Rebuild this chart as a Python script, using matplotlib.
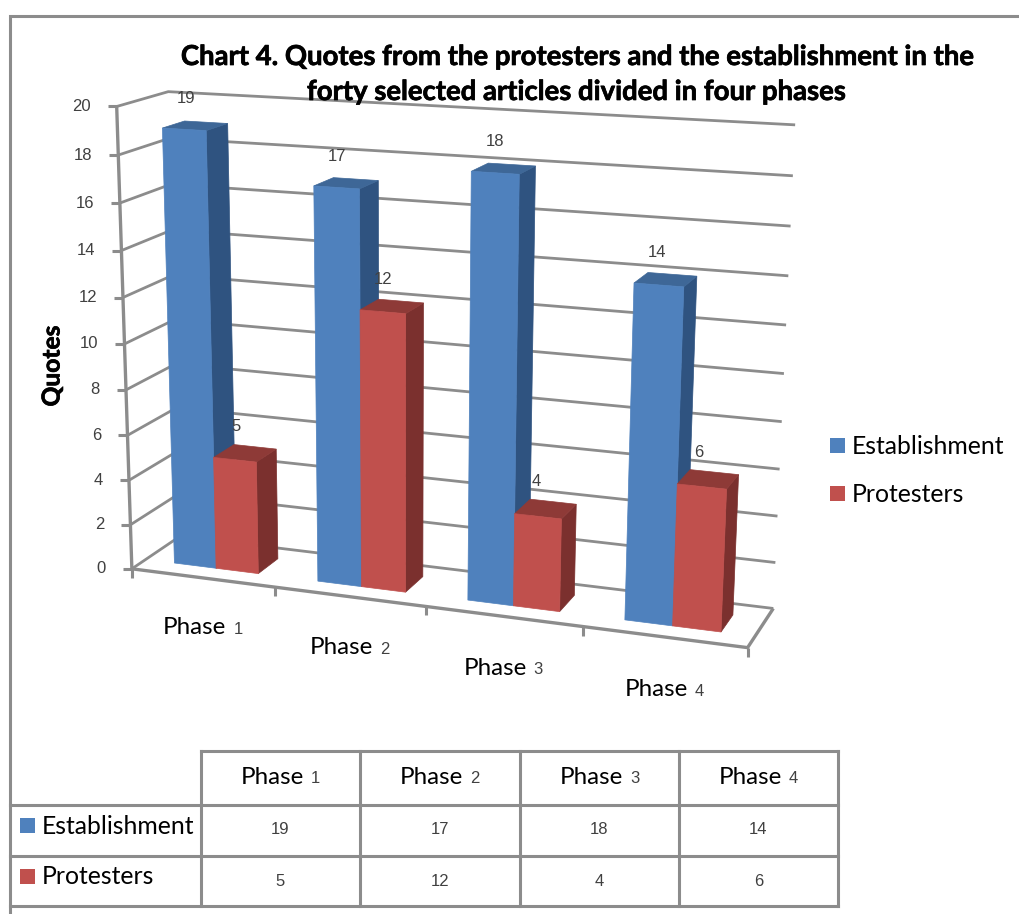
import numpy as np
import matplotlib
matplotlib.use("Agg")
import matplotlib.pyplot as plt
import matplotlib.patheffects as pe
from matplotlib.patches import Polygon, Rectangle

# DATA
phases = ["Phase 1", "Phase 2", "Phase 3", "Phase 4"]
series_names = ["Establishment", "Protesters"]
establishment = [19, 17, 18, 14]
protesters = [5, 12, 4, 6]
y_ticks = list(range(0, 21, 2))

# COLOURS (front, side, top)
blue = ("#4F81BD", "#2F5380", "#3E6797")
red = ("#C0504D", "#7B302E", "#8E3A37")
grey = "#8C8C8C"
num_col = "#404040"

TXT = "Lato"
NUM = "Liberation Sans"

fig = plt.figure(figsize=(10.19, 9.14), dpi=100)
ax = fig.add_axes([0, 0, 1, 1])
ax.set_xlim(0, 1019)
ax.set_ylim(914, 0)
ax.axis("off")

# PROJECTION: fit a camera matrix to the corners of the 3D chart box
# (category, value, depth) -> pixel
box_3d = [(0, 0, 0), (4, 0, 0), (4, 0, 1), (0, 0, 1), (0, 20, 0), (0, 20, 1), (4, 20, 1)]
box_px = [(134, 568), (747, 649), (774, 607), (178, 537), (115, 106), (170, 92), (795, 125)]

rows = []
for (u, v, w), (px, py) in zip(box_3d, box_px):
    rows.append([u, v, w, 1, 0, 0, 0, 0, -px * u, -px * v, -px * w, -px])
    rows.append([0, 0, 0, 0, u, v, w, 1, -py * u, -py * v, -py * w, -py])
P = np.linalg.svd(np.array(rows, dtype=float))[2][-1].reshape(3, 4)


def project(u, v, w):
    x, y, z = P @ np.array([u, v, w, 1.0])
    return x / z, y / z


def grid_line(points, lw=2.2, color=grey):
    xy = np.array(points)
    ax.plot(xy[:, 0], xy[:, 1], color=color, lw=lw, solid_capstyle="butt", zorder=2)


# WALLS AND FLOOR
for v in y_ticks:
    grid_line([project(0, v, 0), project(0, v, 1), project(4, v, 1)], lw=2.0)
    x0, y0 = project(0, v, 0)
    grid_line([(x0 - 9, y0), (x0, y0)])
    ax.text(x0 - 26, y0, str(v), ha="right", va="center", family=NUM,
            fontsize=12, color=num_col)
grid_line([project(0, 0, 0), project(0, 20, 0)], lw=2.4)
grid_line([project(0, 0, 0), project(4, 0, 0), project(4, 0, 1)], lw=2.4)
for k in range(5):
    x0, y0 = project(k, 0, 0)
    grid_line([(x0, y0), (x0, y0 + 9)])

# BARS
bar_w = 0.295
depth = (0.28, 0.72)


def draw_bar(k, side, value, colors):
    u0 = k + 0.5 + (side - 1) * bar_w
    u1 = u0 + bar_w
    w0, w1 = depth
    top = [project(u0, value, w0), project(u1, value, w0), project(u1, value, w1), project(u0, value, w1)]
    front = [project(u0, 0, w0), project(u1, 0, w0), project(u1, value, w0), project(u0, value, w0)]
    right = [project(u1, 0, w0), project(u1, 0, w1), project(u1, value, w1), project(u1, value, w0)]
    for poly, col in zip((right, top, front), (colors[1], colors[2], colors[0])):
        ax.add_patch(Polygon(poly, closed=True, fc=col, ec=col, lw=0.5, zorder=3))
    cx, cy = project((u0 + u1) / 2, value, (w0 + w1) / 2)
    ax.text(cx - 9, cy - 27, str(value), ha="center", va="center", family=NUM,
            fontsize=12, color=num_col, zorder=5)


for k in range(len(phases)):
    draw_bar(k, 0, establishment[k], blue)
    draw_bar(k, 1, protesters[k], red)


# TEXT HELPERS
def phase_label(cx, cy, label, size=17.4):
    # word in the body font, digit in the thinner number font, centred together
    word, digit = label.split()
    t1 = ax.text(cx, cy, word, ha="left", va="center", family=TXT, fontsize=size, color="black")
    t2 = ax.text(cx, cy + 1.5, digit, ha="left", va="center", family=NUM, fontsize=12, color=num_col)
    fig.canvas.draw()
    r = fig.canvas.get_renderer()
    w1 = t1.get_window_extent(r).width + 7
    w2 = t2.get_window_extent(r).width
    t1.set_x(cx - (w1 + w2) / 2)
    t2.set_x(cx - (w1 + w2) / 2 + w1)


for k, label in enumerate(phases):
    x0, y0 = project(k + 0.5, 0, 0)
    phase_label(x0, y0 + 50 + k, label)

# TITLE AND AXIS TITLE
heavy = [pe.withStroke(linewidth=0.5, foreground="black")]
ax.text(576, 57, "Chart 4. Quotes from the protesters and the establishment in the",
        ha="center", va="center", family=TXT, weight="bold", fontsize=19.8, color="black",
        zorder=6, path_effects=heavy)
ax.text(576, 92, "forty selected articles divided in four phases",
        ha="center", va="center", family=TXT, weight="bold", fontsize=19.8, color="black",
        zorder=6, path_effects=heavy)
ax.text(52, 366, "Quotes", rotation=90, ha="center", va="center", family=TXT,
        weight="bold", fontsize=17.7, color="black", path_effects=heavy)

# LEGEND
for name, col, y in zip(series_names, (blue[0], red[0]), (445, 493)):
    ax.add_patch(Rectangle((830, y - 7.5), 15, 15, fc=col, ec="none"))
    ax.text(852, y + 1, name, ha="left", va="center", family=TXT, fontsize=17.8, color="black")

# OUTER FRAME
ax.plot([1019, 10, 10], [16, 16, 914], color=grey, lw=2.2, solid_joinstyle="miter")

# DATA TABLE
col_x = [201, 360, 520, 679, 838]
row_y = [751, 805, 856, 906]
for x in col_x:
    ax.plot([x, x], [row_y[0], row_y[-1]], color=grey, lw=2.2)
ax.plot([col_x[0], col_x[-1]], [row_y[0], row_y[0]], color=grey, lw=2.2)
for y in row_y[1:]:
    ax.plot([10, col_x[-1]], [y, y], color=grey, lw=2.2)

for k, label in enumerate(phases):
    phase_label((col_x[k] + col_x[k + 1]) / 2, 777, label)
    mid = (col_x[k] + col_x[k + 1]) / 2
    ax.text(mid, 830, str(establishment[k]), ha="center", va="center", family=NUM, fontsize=12, color=num_col)
    ax.text(mid, 881, str(protesters[k]), ha="center", va="center", family=NUM, fontsize=12, color=num_col)

for name, col, y in zip(series_names, (blue[0], red[0]), (825, 876)):
    ax.add_patch(Rectangle((20, y - 7.5), 15, 15, fc=col, ec="none"))
    ax.text(42, y + 1, name, ha="left", va="center", family=TXT, fontsize=17.8, color="black")

fig.savefig("out.png", dpi=100)
